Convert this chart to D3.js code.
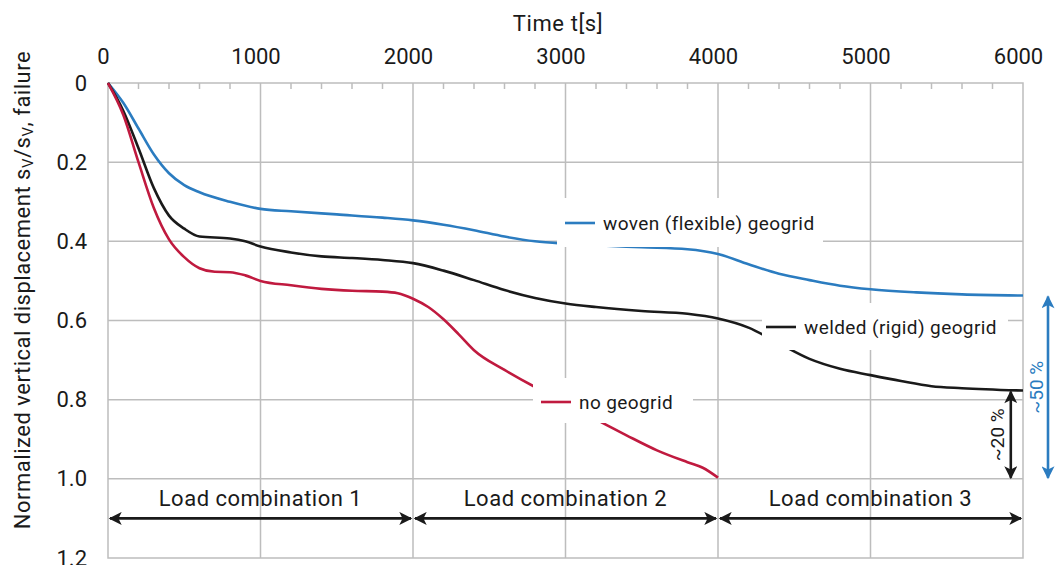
<!DOCTYPE html>
<html>
<head>
<meta charset="utf-8">
<script src="https://cdn.jsdelivr.net/npm/d3@7"></script>
<style>
  body { margin: 0; background: #fff; }
  text { font-family: Roboto, "DejaVu Sans", sans-serif; fill: #1a1a1a; }
</style>
</head>
<body>
<div class="chart"></div>
<script>
// series: [time s, normalized displacement]
const woven = [[0,0],[100,0.05],[200,0.115],[300,0.18],[400,0.228],[500,0.258],[600,0.276],[800,0.3],[1000,0.318],[1200,0.324],[1500,0.332],[1800,0.34],[2000,0.347],[2200,0.358],[2400,0.372],[2600,0.388],[2800,0.4],[3000,0.406],[3200,0.41],[3500,0.415],[3800,0.42],[4000,0.432],[4200,0.458],[4400,0.482],[4600,0.498],[4800,0.512],[5000,0.521],[5300,0.529],[5600,0.534],[6000,0.537]]
const welded = [[0,0],[100,0.07],[200,0.165],[300,0.265],[400,0.335],[500,0.368],[600,0.388],[800,0.393],[900,0.4],[1000,0.413],[1200,0.428],[1400,0.438],[1600,0.442],[1800,0.447],[2000,0.455],[2200,0.474],[2400,0.498],[2600,0.523],[2800,0.543],[3000,0.557],[3200,0.566],[3500,0.576],[3800,0.583],[4000,0.595],[4200,0.618],[4400,0.658],[4600,0.697],[4800,0.722],[5000,0.738],[5200,0.753],[5400,0.766],[5600,0.771],[6000,0.777]]
const noGrid = [[0,0],[100,0.08],[200,0.2],[300,0.315],[400,0.395],[500,0.44],[600,0.468],[700,0.477],[800,0.478],[900,0.486],[1000,0.5],[1200,0.511],[1400,0.52],[1600,0.525],[1800,0.527],[1900,0.531],[2000,0.545],[2100,0.566],[2200,0.597],[2300,0.635],[2400,0.675],[2600,0.725],[2800,0.768],[3000,0.805],[3200,0.85],[3400,0.89],[3600,0.928],[3800,0.958],[3900,0.972],[4000,0.997]]

const xTicks = [0, 1000, 2000, 3000, 4000, 5000, 6000]
const yTicks = [0, 0.2, 0.4, 0.6, 0.8, 1.0, 1.2]
const loadCombos = ["Load combination 1", "Load combination 2", "Load combination 3"]
const loadBounds = [0, 2000, 4000, 6000]

const W = 1058, H = 565
const svg = d3.select(".chart").append("svg")
  .attr("width", W).attr("height", H)

const x = d3.scaleLinear().domain([0, 6000]).range([108, 1023])
const y = d3.scaleLinear().domain([0, 1.2]).range([83, 558])

const grid = "#bdbdbd"
const blue = "#2b7cc0", red = "#c01a3f", black = "#1a1a1a"

// arrow markers
const defs = svg.append("defs")
function marker(id, color) {
  defs.append("marker")
    .attr("id", id)
    .attr("viewBox", "0 0 10 10")
    .attr("refX", 9).attr("refY", 5)
    .attr("markerWidth", 5.5).attr("markerHeight", 5)
    .attr("markerUnits", "strokeWidth")
    .attr("orient", "auto-start-reverse")
    .append("path").attr("d", "M0,0L10,5L0,10L2.5,5Z").attr("fill", color)
}
marker("arrBlack", black)
marker("arrBlue", blue)

// grid lines
svg.append("g").selectAll("line")
  .data(xTicks.slice(1, -1))
  .join("line")
  .attr("x1", d => x(d)).attr("x2", d => x(d))
  .attr("y1", y(0)).attr("y2", y(1.2))
  .attr("stroke", grid).attr("stroke-width", 1.5)
svg.append("g").selectAll("line")
  .data(yTicks.slice(1, -1))
  .join("line")
  .attr("x1", x(0)).attr("x2", x(6000))
  .attr("y1", d => y(d)).attr("y2", d => y(d))
  .attr("stroke", grid).attr("stroke-width", 1.5)

// minor ticks on the top edge
svg.append("g").selectAll("line")
  .data(d3.range(200, 6000, 200).filter(d => d % 1000 !== 0))
  .join("line")
  .attr("x1", d => x(d)).attr("x2", d => x(d))
  .attr("y1", y(0)).attr("y2", y(0) + 6)
  .attr("stroke", grid).attr("stroke-width", 1.5)

// frame
svg.append("rect")
  .attr("x", x(0)).attr("y", y(0))
  .attr("width", x(6000) - x(0)).attr("height", y(1.2) - y(0))
  .attr("fill", "none").attr("stroke", grid).attr("stroke-width", 1.5)

// axes (labels only)
const xAxisG = svg.append("g")
  .attr("transform", `translate(-5,${y(0) - 16})`)
  .call(d3.axisTop(x).tickValues(xTicks).tickSize(0).tickFormat(d3.format("d")))
xAxisG.select(".domain").remove()
xAxisG.selectAll("text").style("font-size", "22px").style("font-weight", 400)

const yAxisG = svg.append("g")
  .attr("transform", `translate(${x(0) - 18},0)`)
  .call(d3.axisLeft(y).tickValues(yTicks).tickSize(0).tickFormat(d => d === 0 ? "0" : d3.format(".1f")(d)))
yAxisG.select(".domain").remove()
yAxisG.selectAll("text").style("font-size", "22px").style("font-weight", 400)

svg.append("text")
  .attr("x", 558).attr("y", 31)
  .attr("text-anchor", "middle")
  .style("font-size", "22px").style("font-weight", 400).style("letter-spacing", "0.6px")
  .text("Time t[s]")

const yl = svg.append("text")
  .attr("transform", "translate(30,290) rotate(-90)")
  .attr("text-anchor", "middle")
  .style("font-size", "22px").style("font-weight", 400).style("letter-spacing", "0.5px")
yl.append("tspan").text("Normalized vertical displacement s")
yl.append("tspan").attr("baseline-shift", "-20%").style("font-size", "15px").text("V")
yl.append("tspan").text("/s")
yl.append("tspan").attr("baseline-shift", "-20%").style("font-size", "15px").text("V")
yl.append("tspan").text(", failure")

// curves
const line = d3.line()
  .curve(d3.curveMonotoneX)
  .x(d => x(d[0])).y(d => y(d[1]))
const series = [
  { data: woven, color: blue },
  { data: welded, color: black },
  { data: noGrid, color: red }
]
svg.append("g").selectAll("path")
  .data(series)
  .join("path")
  .attr("d", d => line(d.data))
  .attr("fill", "none")
  .attr("stroke", d => d.color)
  .attr("stroke-width", 2.6)

// in-plot legend labels on white patches
const labels = [
  { text: "woven (flexible) geogrid", color: blue, box: [557, 198, 266, 49], lx: 565, ly: 223 },
  { text: "welded (rigid) geogrid", color: black, box: [762, 303, 246, 47], lx: 766, ly: 327 },
  { text: "no geogrid", color: red, box: [533, 378, 160, 45], lx: 541, ly: 402 }
]
const lg = svg.append("g").selectAll("g").data(labels).join("g")
lg.append("rect")
  .attr("x", d => d.box[0]).attr("y", d => d.box[1])
  .attr("width", d => d.box[2]).attr("height", d => d.box[3])
  .attr("fill", "#fff")
lg.append("line")
  .attr("x1", d => d.lx).attr("x2", d => d.lx + 30)
  .attr("y1", d => d.ly).attr("y2", d => d.ly)
  .attr("stroke", d => d.color).attr("stroke-width", 2.6)
lg.append("text")
  .attr("x", d => d.lx + 38).attr("y", d => d.ly)
  .attr("dy", "0.35em")
  .style("font-size", "19px").style("font-weight", 400).style("letter-spacing", "0.4px")
  .text(d => d.text)

// load combination arrows
const lc = svg.append("g").selectAll("g").data(loadCombos).join("g")
lc.append("line")
  .attr("x1", (d, i) => x(loadBounds[i]) + 2).attr("x2", (d, i) => x(loadBounds[i + 1]) - 2)
  .attr("y1", y(1.1)).attr("y2", y(1.1))
  .attr("stroke", black).attr("stroke-width", 2.6)
  .attr("marker-start", "url(#arrBlack)").attr("marker-end", "url(#arrBlack)")
lc.append("text")
  .attr("x", (d, i) => x((loadBounds[i] + loadBounds[i + 1]) / 2))
  .attr("y", y(1.05))
  .attr("dy", "0.35em")
  .attr("text-anchor", "middle")
  .style("font-size", "22px").style("font-weight", 400).style("letter-spacing", "0.5px")
  .text(d => d)

// reduction arrows on the right
const endWoven = woven[woven.length - 1][1]
const endWelded = welded[welded.length - 1][1]
svg.append("line")
  .attr("x1", x(5920)).attr("x2", x(5920))
  .attr("y1", y(endWelded) + 1).attr("y2", y(1.0) - 1)
  .attr("stroke", black).attr("stroke-width", 2.6)
  .attr("marker-start", "url(#arrBlack)").attr("marker-end", "url(#arrBlack)")
svg.append("text")
  .attr("transform", `translate(${x(5920) - 13},${y((endWelded + 1) / 2)}) rotate(-90)`)
  .attr("text-anchor", "middle").attr("dy", "0.35em")
  .style("font-size", "19px").style("font-weight", 400)
  .text("~20 %")
svg.append("line")
  .attr("x1", 1048).attr("x2", 1048)
  .attr("y1", y(endWoven) + 1).attr("y2", y(1.0) - 1)
  .attr("stroke", blue).attr("stroke-width", 2.6)
  .attr("marker-start", "url(#arrBlue)").attr("marker-end", "url(#arrBlue)")
svg.append("text")
  .attr("transform", `translate(1036,${y((endWoven + 1) / 2)}) rotate(-90)`)
  .attr("text-anchor", "middle").attr("dy", "0.35em")
  .style("font-size", "19px").style("font-weight", 400).style("fill", blue)
  .text("~50 %")
</script>
</body>
</html>
